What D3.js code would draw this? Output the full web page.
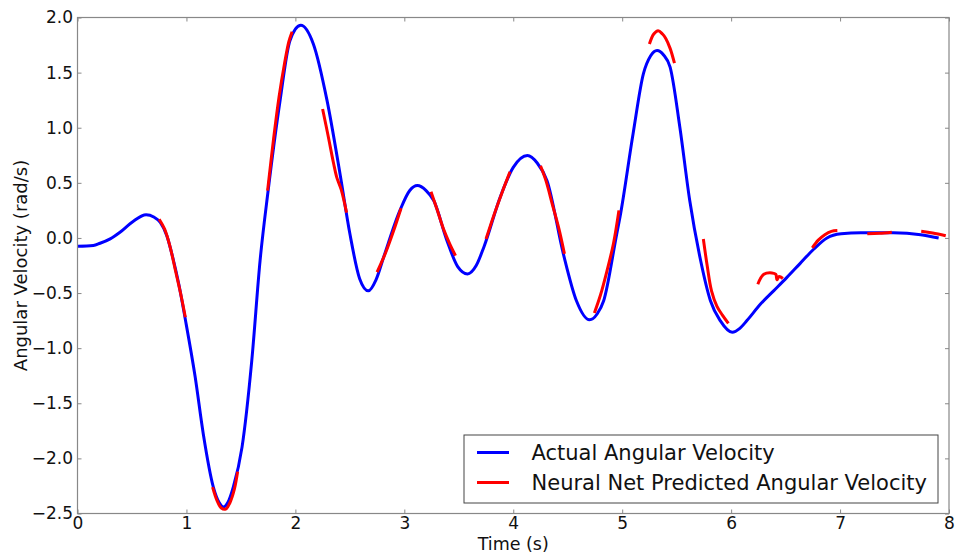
<!DOCTYPE html>
<html>
<head>
<meta charset="utf-8">
<script src="https://cdn.jsdelivr.net/npm/d3@7"></script>
<style>
  body { margin: 0; background: #fff; }
  svg { display: block; font-family: "DejaVu Sans", sans-serif; }
</style>
</head>
<body>
<svg id="chart" width="955" height="556"></svg>
<script>
// ---- data ----
const actualTime = [0, 0.145, 0.207, 0.30, 0.39, 0.51, 0.63, 0.70, 0.76, 0.82, 0.88, 0.93, 0.99, 1.08, 1.155, 1.247, 1.30, 1.34, 1.38, 1.43, 1.51, 1.60, 1.676, 1.75, 1.86, 1.95, 2.05, 2.165, 2.29, 2.41, 2.50, 2.59, 2.67, 2.74, 2.81, 2.96, 3.05, 3.12, 3.20, 3.27, 3.39, 3.49, 3.58, 3.66, 3.73, 3.88, 4.00, 4.13, 4.22, 4.31, 4.46, 4.58, 4.70, 4.77, 4.83, 4.95, 4.98, 5.10, 5.195, 5.26, 5.32, 5.38, 5.44, 5.53, 5.62, 5.72, 5.81, 5.90, 6.01, 6.08, 6.145, 6.27, 6.39, 6.51, 6.63, 6.76, 6.88, 7.01, 7.19, 7.49, 7.74, 7.905];
const actualVel = [-0.075, -0.068, -0.048, -0.008, 0.052, 0.15, 0.21, 0.19, 0.14, 0.02, -0.20, -0.42, -0.74, -1.26, -1.78, -2.26, -2.40, -2.44, -2.40, -2.26, -1.90, -1.11, -0.205, 0.43, 1.25, 1.79, 1.93, 1.76, 1.25, 0.58, 0.04, -0.37, -0.48, -0.38, -0.175, 0.25, 0.43, 0.475, 0.43, 0.34, -0.02, -0.26, -0.326, -0.25, -0.084, 0.37, 0.64, 0.748, 0.68, 0.52, -0.145, -0.57, -0.743, -0.69, -0.57, 0.037, 0.19, 0.945, 1.49, 1.65, 1.70, 1.66, 1.55, 1.00, 0.34, -0.205, -0.57, -0.75, -0.855, -0.82, -0.75, -0.60, -0.48, -0.36, -0.235, -0.10, 0.0, 0.037, 0.046, 0.046, 0.03, 0.0];

// predicted segments: each is [times, values]
const predTimes = [
  [0.75, 0.80, 0.85, 0.90, 0.95, 0.99],
  [1.24, 1.28, 1.32, 1.36, 1.40, 1.44, 1.47],
  [1.745, 1.80, 1.85, 1.90, 1.94, 1.97],
  [2.25, 2.30, 2.35, 2.38, 2.42, 2.47],
  [2.75, 2.83, 2.90, 2.97],
  [3.245, 3.30, 3.36, 3.42, 3.47],
  [3.75, 3.82, 3.90, 3.97],
  [4.25, 4.30, 4.36, 4.42, 4.47],
  [4.745, 4.80, 4.86, 4.92, 4.97],
  [5.25, 5.29, 5.33, 5.37, 5.40, 5.44, 5.48],
  [5.745, 5.78, 5.82, 5.87, 5.92, 5.975],
  [6.245, 6.30, 6.375, 6.41, 6.42, 6.44, 6.475],
  [6.745, 6.80, 6.86, 6.92, 6.975],
  [7.25, 7.36, 7.475],
  [7.745, 7.85, 7.97]
];
const predVel = [
  [0.17, 0.08, -0.08, -0.30, -0.52, -0.72],
  [-2.26, -2.38, -2.45, -2.46, -2.40, -2.28, -2.12],
  [0.43, 0.90, 1.28, 1.58, 1.78, 1.87],
  [1.17, 0.93, 0.68, 0.55, 0.44, 0.23],
  [-0.31, -0.13, 0.06, 0.27],
  [0.42, 0.26, 0.08, -0.06, -0.16],
  [-0.01, 0.20, 0.42, 0.60],
  [0.655, 0.52, 0.30, 0.08, -0.145],
  [-0.68, -0.52, -0.30, -0.05, 0.25],
  [1.76, 1.85, 1.88, 1.85, 1.81, 1.72, 1.585],
  [-0.01, -0.25, -0.48, -0.62, -0.70, -0.775],
  [-0.42, -0.33, -0.317, -0.33, -0.38, -0.35, -0.368],
  [-0.09, -0.02, 0.03, 0.06, 0.067],
  [0.038, 0.042, 0.052],
  [0.06, 0.045, 0.02]
];

const xTicks = [0, 1, 2, 3, 4, 5, 6, 7, 8];
const yTicks = [2.0, 1.5, 1.0, 0.5, 0.0, -0.5, -1.0, -1.5, -2.0, -2.5];
const seriesNames = ["Actual Angular Velocity", "Neural Net Predicted Angular Velocity"];
const seriesColors = ["#0000ff", "#ff0000"];

// ---- layout ----
const margin = { left: 77.5, top: 17.5, right: 955 - 949, bottom: 556 - 513.5 };
const W = 955, H = 556;
const svg = d3.select("#chart");
const x = d3.scaleLinear().domain([0, 8]).range([margin.left, W - margin.right]);
const y = d3.scaleLinear().domain([-2.5, 2.0]).range([H - margin.bottom, margin.top]);

const fmtY = v => (v < 0 ? "\u2212" : "") + Math.abs(v).toFixed(1);
const axisColor = "#888";

const clipId = "plotclip";
svg.append("defs").append("clipPath").attr("id", clipId)
  .append("rect").attr("x", x(0)).attr("y", y(2)).attr("width", x(8) - x(0)).attr("height", y(-2.5) - y(2));

// lines
const line = d3.line().x(d => x(d[0])).y(d => y(d[1])).curve(d3.curveMonotoneX);
const g = svg.append("g").attr("clip-path", `url(#${clipId})`);
g.append("path")
  .datum(actualTime.map((t, i) => [t, actualVel[i]]))
  .attr("d", line)
  .attr("fill", "none").attr("stroke", seriesColors[0]).attr("stroke-width", 3)
  .attr("stroke-linejoin", "round");

const predLine = d3.line().x(d => x(d[0])).y(d => y(d[1])).curve(d3.curveCatmullRom.alpha(0.5));
predTimes.forEach((ts, k) => {
  g.append("path")
    .datum(ts.map((t, i) => [t, predVel[k][i]]))
    .attr("d", predLine)
    .attr("fill", "none").attr("stroke", seriesColors[1]).attr("stroke-width", 3)
    .attr("stroke-linejoin", "round");
});

// axes (matplotlib classic: inward ticks on all sides)
const tickLen = 4;
const xAxisB = d3.axisBottom(x).tickValues(xTicks).tickSizeInner(-tickLen).tickSizeOuter(0).tickPadding(3).tickFormat(d3.format("d"));
const xAxisT = d3.axisTop(x).tickValues(xTicks).tickSizeInner(-tickLen).tickSizeOuter(0).tickFormat("");
const yAxisL = d3.axisLeft(y).tickValues(yTicks).tickSizeInner(-tickLen).tickSizeOuter(0).tickPadding(4.5).tickFormat(fmtY);
const yAxisR = d3.axisRight(y).tickValues(yTicks).tickSizeInner(-tickLen).tickSizeOuter(0).tickFormat("");

function styleAxis(sel) {
  sel.select(".domain").remove();
  sel.selectAll(".tick line").attr("stroke", axisColor).attr("stroke-width", 1);
  sel.selectAll(".tick text").attr("fill", "#111").style("font-size", "17px").style("font-family", "DejaVu Sans, sans-serif");
}
svg.append("g").attr("transform", `translate(0,${y(-2.5)})`).call(xAxisB).call(styleAxis);
svg.append("g").attr("transform", `translate(0,${y(2)})`).call(xAxisT).call(styleAxis);
svg.append("g").attr("transform", `translate(${x(0)},0)`).call(yAxisL).call(styleAxis);
svg.append("g").attr("transform", `translate(${x(8)},0)`).call(yAxisR).call(styleAxis);

// frame
svg.append("rect")
  .attr("x", x(0)).attr("y", y(2)).attr("width", x(8) - x(0)).attr("height", y(-2.5) - y(2))
  .attr("fill", "none").attr("stroke", axisColor).attr("stroke-width", 1.2);

// axis titles
svg.append("text").attr("x", (x(0) + x(8)) / 2).attr("y", 549.5)
  .attr("text-anchor", "middle").attr("fill", "#111").style("font-size", "17.5px").text("Time (s)");
svg.append("text").attr("transform", `translate(27,${(y(2) + y(-2.5)) / 2}) rotate(-90)`)
  .attr("text-anchor", "middle").attr("fill", "#111").style("font-size", "18px").text("Angular Velocity (rad/s)");

// legend
const lg = svg.append("g");
lg.append("rect").attr("x", 464).attr("y", 435).attr("width", 474).attr("height", 68)
  .attr("fill", "#fff").attr("stroke", "#444").attr("stroke-width", 1);
seriesNames.forEach((name, i) => {
  const yy = 452.5 + i * 30;
  lg.append("line").attr("x1", 477).attr("x2", 509).attr("y1", yy).attr("y2", yy)
    .attr("stroke", seriesColors[i]).attr("stroke-width", 3);
  lg.append("text").attr("x", 531.5).attr("y", yy).attr("dy", "0.35em")
    .attr("fill", "#111").style("font-size", "21px").text(name);
});
</script>
</body>
</html>
